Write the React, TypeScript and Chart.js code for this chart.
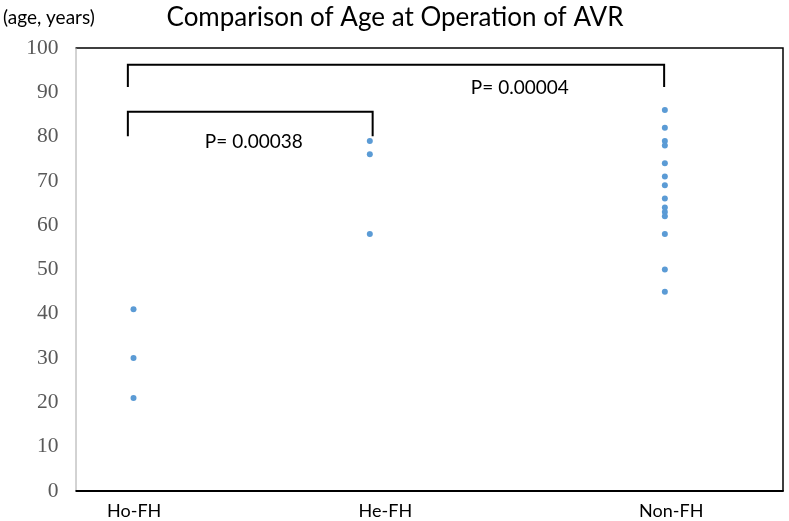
import React, { useEffect, useRef } from "react";
import { Chart, registerables } from "chart.js";

Chart.register(...registerables);

const categories = ["Ho-FH", "He-FH", "Non-FH"];
const categoryX = [0.82, 4.16, 8.33];
const labelX = [0.83, 4.38, 8.42];
const hoFH = [41, 30, 21];
const heFH = [79, 76, 58];
const nonFH = [86, 82, 79, 78, 74, 71, 69, 66, 64, 63, 62, 58, 50, 45];
const yTicks = [0, 10, 20, 30, 40, 50, 60, 70, 80, 90, 100];
const titleText = "Comparison of Age at Operation of AVR";
const yUnitText = "(age, years)";
// brackets: [xLeft, xRight, yTop, yBottom]
const brackets = [
  [0.74, 8.32, 96.2, 91.2],
  [0.74, 4.2, 85.6, 80.1],
];
const pLabels = ["P= 0.00004", "P= 0.00038"];
const pLabelPos = [
  [6.28, 91.0],
  [2.52, 78.8],
];

const FONT = "Lato, 'Open Sans', sans-serif";

export default function App() {
  const ref = useRef<HTMLCanvasElement>(null);
  useEffect(() => {
    document.body.style.margin = "0";
    const series = [hoFH, heFH, nonFH];
    const points = series.flatMap((vals, i) => vals.map((v) => ({ x: categoryX[i], y: v })));

    const overlay = {
      id: "overlay",
      afterDatasetsDraw(chart: any) {
        const { ctx, chartArea: a, scales } = chart;
        const xs = scales.x;
        const ys = scales.y;
        ctx.save();
        // frame
        ctx.strokeStyle = "#000";
        ctx.lineWidth = 1.5;
        ctx.beginPath();
        ctx.moveTo(a.left, a.top);
        ctx.lineTo(a.right, a.top);
        ctx.lineTo(a.right, a.bottom);
        ctx.stroke();
        ctx.strokeStyle = "#a6a6a6";
        ctx.lineWidth = 1;
        ctx.beginPath();
        ctx.moveTo(a.left + 0.5, a.top);
        ctx.lineTo(a.left + 0.5, a.bottom);
        ctx.stroke();
        ctx.strokeStyle = "#000";
        ctx.lineWidth = 2;
        ctx.beginPath();
        ctx.moveTo(a.left, a.bottom);
        ctx.lineTo(a.right + 0.75, a.bottom);
        ctx.stroke();
        // brackets
        ctx.lineWidth = 2;
        ctx.strokeStyle = "#000";
        brackets.forEach(([x1, x2, yt, yb]) => {
          ctx.beginPath();
          ctx.moveTo(xs.getPixelForValue(x1), ys.getPixelForValue(yb));
          ctx.lineTo(xs.getPixelForValue(x1), ys.getPixelForValue(yt));
          ctx.lineTo(xs.getPixelForValue(x2), ys.getPixelForValue(yt));
          ctx.lineTo(xs.getPixelForValue(x2), ys.getPixelForValue(yb));
          ctx.stroke();
        });
        ctx.fillStyle = "#000";
        ctx.font = `19px ${FONT}`;
        ctx.textAlign = "center";
        ctx.textBaseline = "middle";
        pLabels.forEach((t, i) => {
          ctx.fillText(t, xs.getPixelForValue(pLabelPos[i][0]), ys.getPixelForValue(pLabelPos[i][1]));
        });
        // title + unit
        ctx.font = `26px ${FONT}`;
        ctx.fillText(titleText, 395, 18);
        ctx.font = `19px ${FONT}`;
        ctx.textAlign = "left";
        ctx.fillText(yUnitText, 3, 18);
        ctx.restore();
      },
    };

    const chart = new Chart(ref.current!, {
      type: "scatter",
      data: {
        datasets: [
          {
            data: points,
            backgroundColor: "#5b9bd5",
            borderWidth: 0,
            pointRadius: 3,
            pointHoverRadius: 3,
          },
        ],
      },
      options: {
        responsive: false,
        animation: false,
        events: [],
        layout: { padding: { top: 48, left: 0, right: 6, bottom: 0 } },
        plugins: { legend: { display: false }, tooltip: { enabled: false } },
        scales: {
          x: {
            type: "linear",
            min: 0,
            max: 10,
            grid: { display: false, drawTicks: false },
            border: { display: false },
            afterFit: (s: any) => {
              s.height = 30;
            },
            afterBuildTicks: (s: any) => {
              s.ticks = labelX.map((v) => ({ value: v }));
            },
            ticks: {
              autoSkip: false,
              maxRotation: 0,
              padding: 9,
              color: "#000",
              font: { family: FONT, size: 18 },
              callback: (v: any, i: number) => categories[i],
            },
          },
          y: {
            min: 0,
            max: 100,
            grid: { display: false, drawTicks: false },
            border: { display: false },
            afterFit: (s: any) => {
              s.width = 75.5;
            },
            afterBuildTicks: (s: any) => {
              s.ticks = yTicks.map((v) => ({ value: v }));
            },
            ticks: {
              padding: 17,
              color: "#595959",
              font: { family: "'Liberation Serif', 'Times New Roman', serif", size: 21.5 },
            },
          },
        },
      },
      plugins: [overlay],
    });
    return () => chart.destroy();
  }, []);
  return (
    <div style={{ position: "absolute", left: 0, top: 0, width: 789, height: 521 }}>
      <canvas ref={ref} width={789} height={521} />
    </div>
  );
}
